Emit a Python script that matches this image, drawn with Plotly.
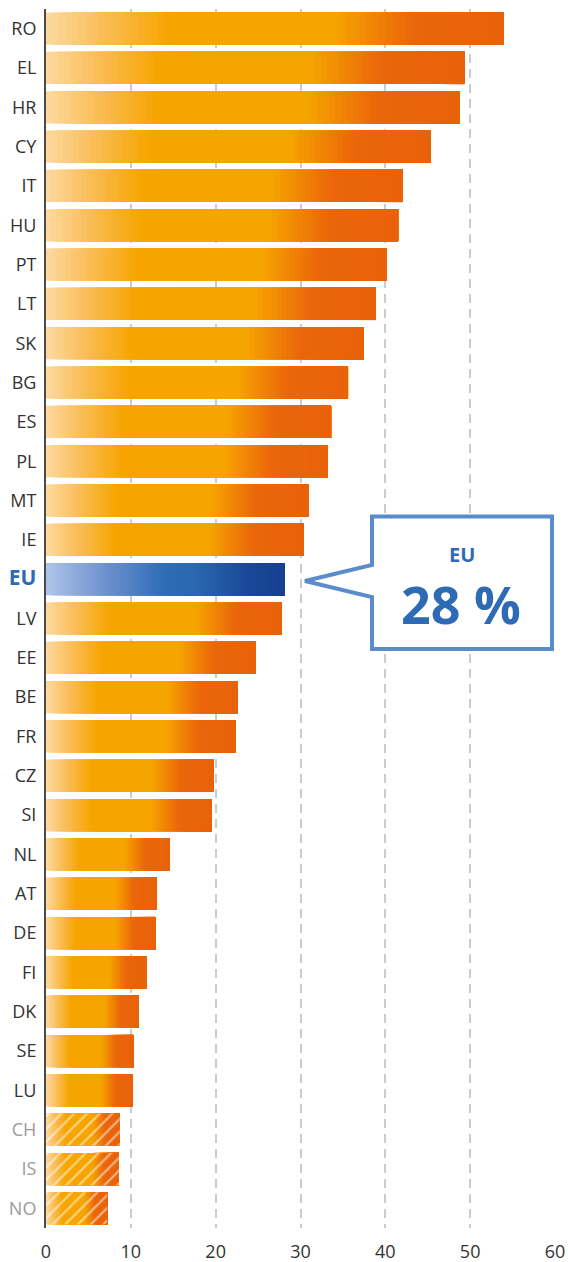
import plotly.graph_objects as go

# ---------------- data ----------------
countries = ["RO", "EL", "HR", "CY", "IT", "HU", "PT", "LT", "SK", "BG", "ES", "PL", "MT", "IE",
             "EU", "LV", "EE", "BE", "FR", "CZ", "SI", "NL", "AT", "DE", "FI", "DK", "SE", "LU",
             "CH", "IS", "NO"]
values = [53.9, 49.3, 48.7, 45.3, 42.0, 41.5, 40.1, 38.9, 37.4, 35.6, 33.6, 33.2, 30.9, 30.4,
          28.1, 27.8, 24.7, 22.6, 22.3, 19.8, 19.5, 14.6, 13.0, 12.9, 11.8, 10.9, 10.3, 10.2,
          8.7, 8.6, 7.2]
highlight = "EU"
non_eu = ["CH", "IS", "NO"]
x_ticks = [0, 10, 20, 30, 40, 50, 60]
callout_title = "EU"
callout_value = "28 %"

# ---------------- styles ----------------
ORANGE_STOPS = [(0.0, (253, 218, 160)), (0.12, (250, 190, 90)), (0.27, (246, 165, 0)),
                (0.63, (246, 165, 0)), (0.80, (234, 102, 10)), (1.0, (232, 98, 10))]
BLUE_STOPS = [(0.0, (176, 196, 233)), (0.25, (110, 145, 205)), (0.5, (44, 109, 182)),
              (0.62, (42, 104, 178)), (0.85, (26, 72, 152)), (1.0, (23, 63, 143))]
FONT = "Open Sans"
BLUE_TXT = "#2e6bb4"
BOX_COL = "#5a8ccb"


def interp(stops, f):
    for (f0, c0), (f1, c1) in zip(stops[:-1], stops[1:]):
        if f <= f1:
            t = 0 if f1 == f0 else (f - f0) / (f1 - f0)
            c = [round(a + (b - a) * t) for a, b in zip(c0, c1)]
            return "rgb(%d,%d,%d)" % tuple(c)
    return "rgb(%d,%d,%d)" % stops[-1][1]


fig = go.Figure()

N = 70
BAR_W = 0.82
for k in range(N):
    f = k / N
    fc = (k + 0.5) / N
    colors = [interp(BLUE_STOPS if c == highlight else ORANGE_STOPS, fc) for c in countries]
    fig.add_trace(go.Bar(
        y=countries, x=[v * (1 - f) for v in values], base=[v * f for v in values],
        orientation="h", width=BAR_W, marker=dict(color=colors, line=dict(width=0)),
        showlegend=False, hoverinfo="skip"))

# hatching for non-EU countries
ne_vals = [values[countries.index(c)] for c in non_eu]
fig.add_trace(go.Bar(
    y=non_eu, x=ne_vals, base=[0] * len(non_eu), orientation="h", width=BAR_W,
    marker=dict(color="rgba(0,0,0,0)", line=dict(width=0),
                pattern=dict(shape="/", fgcolor="white", bgcolor="rgba(0,0,0,0)",
                             size=9, solidity=0.25, fillmode="overlay")),
    showlegend=False, hoverinfo="skip"))

# tick labels
ticktext = []
for c in countries:
    if c == highlight:
        ticktext.append("<span style='font-size:21px;color:%s'><b>%s</b></span>" % (BLUE_TXT, c))
    elif c in non_eu:
        ticktext.append("<span style='color:#9a9a9a'>%s</span>" % c)
    else:
        ticktext.append(c)

W, H = 568, 1262
ML, MR, MT, MB = 46, 13, 9, 34
PW, PH = W - ML - MR, H - MT - MB


def px(xp):
    return (xp - ML) / PW


def py(yp):
    return (H - MB - yp) / PH


# callout box (paper coords from pixel layout)
pts = [(372, 516.5), (552, 516.5), (552, 649), (372, 649), (372, 597), (305, 581), (372, 565)]
path = "M " + " L ".join("%.4f,%.4f" % (px(a), py(b)) for a, b in pts) + " Z"
fig.add_shape(type="path", path=path, xref="paper", yref="paper",
              line=dict(color=BOX_COL, width=4), fillcolor="white", layer="above")

fig.add_annotation(x=px(462), y=py(554), xref="paper", yref="paper", text="<b>%s</b>" % callout_title,
                   xanchor="center", yanchor="middle", showarrow=False, borderpad=0,
                   font=dict(family=FONT, size=20, color=BLUE_TXT))
fig.add_annotation(x=px(461), y=py(603), xref="paper", yref="paper", text="<b>%s</b>" % callout_value,
                   xanchor="center", yanchor="middle", showarrow=False, borderpad=0,
                   font=dict(family=FONT, size=52, color=BLUE_TXT))

fig.update_layout(
    width=W, height=H, margin=dict(l=ML, r=MR, t=MT, b=MB, pad=0, autoexpand=False),
    paper_bgcolor="white", plot_bgcolor="white", barmode="overlay",
    font=dict(family=FONT, size=18, color="#333333"),
    xaxis=dict(range=[0, 60], tickvals=x_ticks, showgrid=True, gridcolor="#cccccc",
               gridwidth=1.5, griddash="9px,6px", zeroline=False, showline=False,
               ticks="", ticklabelstandoff=11, tickfont=dict(size=18, color="#333333"),
               automargin=False, fixedrange=True),
    yaxis=dict(range=[len(countries) - 0.5, -0.5], tickvals=countries, ticktext=ticktext,
               showgrid=False, zeroline=False, showline=True, linecolor="#4a4a4a",
               linewidth=2, ticks="", ticklabelstandoff=4, automargin=False,
               tickfont=dict(size=18, color="#333333"), fixedrange=True),
)

fig.write_html("out.html", config={"displayModeBar": False},
               post_script="document.body.style.margin='0';document.body.style.overflow='hidden';")
